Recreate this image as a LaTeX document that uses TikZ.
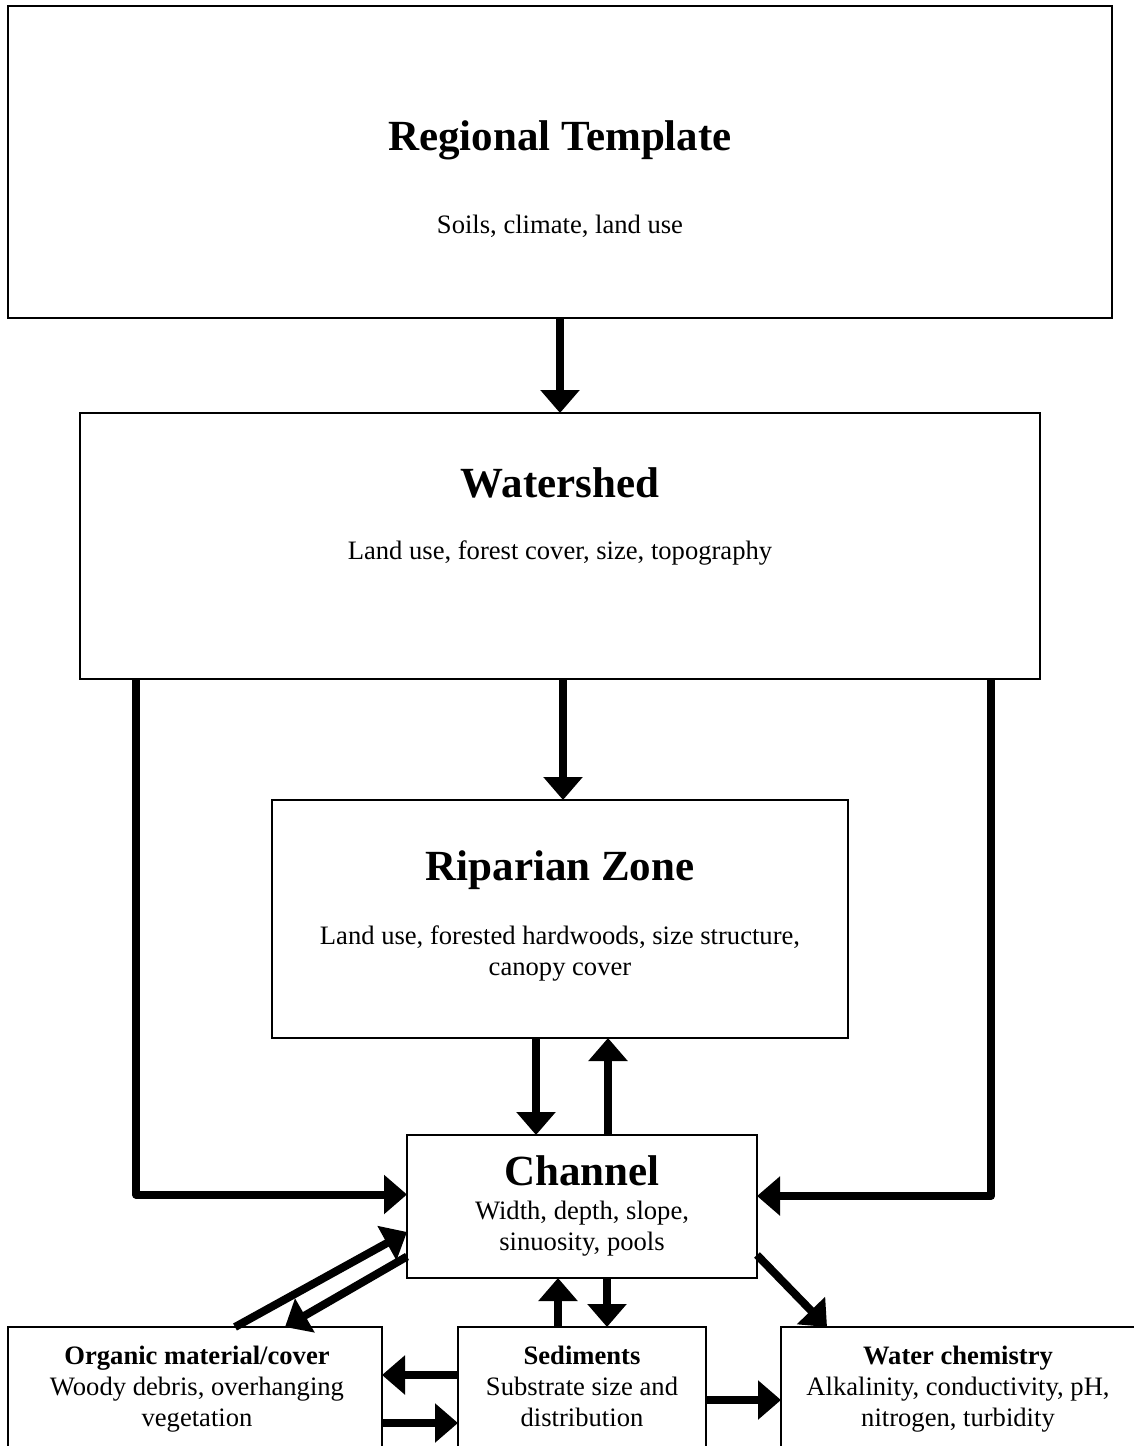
\documentclass[tikz,border=0pt]{standalone}
\usepackage{fontspec}
\setmainfont{Liberation Serif}
\usetikzlibrary{arrows.meta}

\begin{document}
\begin{tikzpicture}[x=0.5pt,y=-0.5pt,
    box/.style={draw, line width=1pt, rectangle, inner sep=0pt, outer sep=0pt},
    title/.style={font=\fontsize{21.5}{25}\selectfont\bfseries},
    note/.style={font=\fontsize{13.3}{15.5}\selectfont, align=center},
    flow/.style={line width=4pt, line join=round, -{Triangle[length=11.5pt,width=19pt]}}]
      \useasboundingbox (0,0) rectangle (1134,1446);
      \clip (0,0) rectangle (1134,1446);
          %%  boxes, top to bottom %%
      \node (rt) at (560,162) [box, minimum width=552pt, minimum height=156pt] {};
      \node (ws) at (560,546) [box, minimum width=480pt, minimum height=133pt] {};
      \node (rz) at (560,919) [box, minimum width=288pt, minimum height=119pt] {};
      \node (ch) at (582,1206.5) [box, minimum width=175pt, minimum height=71.5pt] {};
      \foreach \n/\x/\w in {org/195/187pt, sed/582/124pt, wc/961/180pt}
      { \node (\n) at (\x,1413.5) [box, minimum width=\w, minimum height=86.5pt] {};}

      \node (rttitle) at (560,140) [title] {Regional Template};
      \node (rtnote) at (560,226) [note] {Soils, climate, land use};
      \node (wstitle) at (560,483) [title] {Watershed};
      \node (wsnote) at (560,553) [note] {Land use, forest cover, size, topography};
      \node (rztitle) at (560,870) [title] {Riparian Zone};
      \node (rznote) at (560,953) [note] {Land use, forested hardwoods, size structure,\\canopy cover};
      \node (chtitle) at (582,1171) [title] {Channel};
      \node (chnote) at (582,1229) [note] {Width, depth, slope,\\sinuosity, pools};
      \node (orgnote) at (197,1339) [note, anchor=north] {\textbf{Organic material/cover}\\Woody debris, overhanging\\vegetation};
      \node (sednote) at (582,1339) [note, anchor=north] {\textbf{Sediments}\\Substrate size and\\distribution};
      \node (wcnote) at (958,1339) [note, anchor=north] {\textbf{Water chemistry}\\Alkalinity, conductivity, pH,\\nitrogen, turbidity};

          %%  arrows %%
      \draw[flow] (rt.south) to (ws.north);
      \draw[flow] ([xshift=1.5pt]ws.south) to ([xshift=1.5pt]rz.north);
      \draw[flow] ([xshift=28pt]ws.south west) |- ([yshift=6pt]ch.west);
      \draw[flow] ([xshift=-24.5pt]ws.south east) |- ([yshift=5.25pt]ch.east);
      \draw[flow] ([xshift=-12pt]rz.south) to ([xshift=-23pt]ch.north);
      \draw[flow] ([xshift=13pt]ch.north) to ([xshift=24pt]rz.south);
      \draw[flow] ([xshift=-12pt]sed.north) to ([xshift=-12pt]ch.south);
      \draw[flow] ([xshift=12.5pt]ch.south) to ([xshift=12.5pt]sed.north);
      \draw[flow] ([xshift=20pt]org.north) to ([yshift=-12.75pt]ch.west);
      \draw[flow] ([yshift=-25pt]ch.west) to ([xshift=45pt]org.north);
      \draw[flow] ([yshift=-24.25pt]ch.east) to ([xshift=-67pt]wc.north);
      \draw[flow] ([yshift=19.25pt]sed.west) to ([yshift=19.25pt]org.east);
      \draw[flow] ([yshift=-4.75pt]org.east) to ([yshift=-4.75pt]sed.west);
      \draw[flow] ([yshift=6.75pt]sed.east) to ([yshift=6.75pt]wc.west);
\end{tikzpicture}
\end{document}
